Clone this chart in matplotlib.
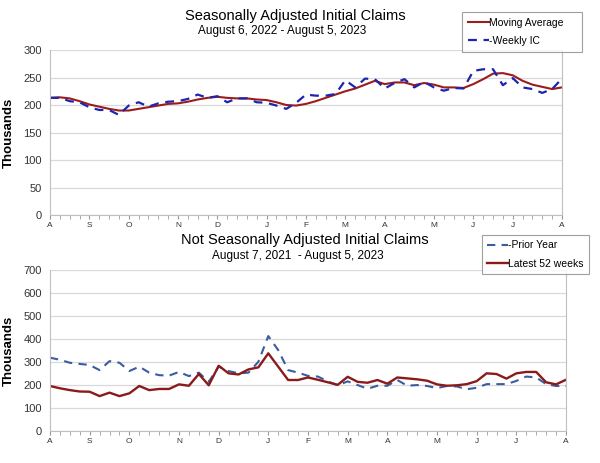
import numpy as np
import matplotlib.pyplot as plt

plt.rcParams['font.family'] = ['Liberation Sans', 'DejaVu Sans']

# Seasonally adjusted, Aug 6 2022 - Aug 5 2023 (thousands)
weekly_ic = [213, 213, 207, 205, 196, 191, 191, 182, 199, 205,
             197, 203, 206, 207, 211, 219, 213, 216, 205, 212,
             212, 205, 204, 199, 193, 204, 219, 217, 217, 220,
             245, 232, 248, 247, 230, 240, 247, 232, 242, 232,
             226, 231, 230, 262, 265, 265, 236, 249, 232, 229,
             222, 229, 248]
moving_avg = [213, 214, 212, 207, 201, 197, 193, 190, 190, 193,
              196, 199, 202, 203, 206, 210, 213, 215, 213, 212,
              212, 210, 209, 205, 200, 199, 202, 207, 213, 219,
              225, 230, 237, 244, 238, 241, 241, 236, 240, 237,
              232, 232, 231, 238, 247, 257, 258, 254, 244, 237,
              233, 229, 232]

# Not seasonally adjusted (thousands)
prior_year = [319, 310, 297, 292, 287, 265, 304, 297, 261, 280,
              254, 243, 241, 257, 239, 254, 214, 280, 261, 251,
              254, 301, 413, 352, 265, 254, 240, 237, 216, 199,
              216, 200, 184, 197, 197, 222, 197, 200, 196, 187,
              196, 194, 182, 188, 204, 204, 204, 218, 237, 233,
              204, 196, 196]
latest_52 = [196, 186, 178, 172, 171, 152, 167, 152, 164, 196,
             178, 183, 183, 203, 197, 248, 199, 284, 251, 246,
             268, 277, 338, 280, 222, 222, 233, 223, 212, 201,
             236, 214, 210, 222, 206, 233, 229, 225, 219, 203,
             197, 199, 204, 217, 251, 248, 228, 251, 257, 257,
             212, 203, 223]

month_labels = ['A', 'S', 'O', 'N', 'D', 'J', 'F', 'M', 'A', 'M', 'J', 'J', 'A']
month_weeks = [0, 4, 8, 13, 17, 22, 26, 30, 34, 39, 43, 47, 52]

weeks = np.arange(len(weekly_ic))

fig = plt.figure(figsize=(6, 4.63), dpi=100)
ax1 = fig.add_axes([0.0833, 0.5356, 0.8533, 0.3564])
ax2 = fig.add_axes([0.0833, 0.069, 0.86, 0.3477])


def style_axis(ax, ymax, ystep):
    ax.set_xlim(0, 52)
    ax.set_ylim(0, ymax)
    ax.set_yticks(np.arange(0, ymax + 1, ystep))
    ax.yaxis.grid(True, color='#d9d9d9', linewidth=0.9)
    ax.set_axisbelow(True)
    for s in ['left', 'right', 'bottom']:
        ax.spines[s].set_color('#bfbfbf')
    ax.spines['top'].set_visible(False)
    ax.set_xticks(weeks, minor=True)
    ax.set_xticks(month_weeks)
    ax.set_xticklabels(month_labels)
    ax.tick_params(axis='x', which='both', length=3, color='#999999',
                   labelsize=6, labelcolor='#333333', pad=2)
    ax.tick_params(axis='y', length=0, labelsize=8, labelcolor='#333333', pad=6)
    ax.set_ylabel('Thousands', fontsize=9.5, fontweight='bold')
    ax.yaxis.set_label_coords(-0.068, 0.5)


style_axis(ax1, 300, 50)
l1, = ax1.plot(weeks, moving_avg, color='#9b1c1c', linewidth=1.5)
l2, = ax1.plot(weeks, weekly_ic, color='#1f24b0', linewidth=1.6,
               linestyle=(0, (4, 3)))
leg1 = fig.legend([l1, l2], ['Moving Average', '-Weekly IC'], loc='upper left',
                  bbox_to_anchor=(0.77, 0.894, 0.2, 0.08), mode='expand',
                  fontsize=7.5, frameon=True, fancybox=False, edgecolor='#888888',
                  handlelength=2.0, handletextpad=0.0, borderpad=0.55,
                  labelspacing=0.8, borderaxespad=0)
leg1.get_frame().set_linewidth(0.8)
fig.text(0.492, 0.957, 'Seasonally Adjusted Initial Claims', ha='center',
         fontsize=10.5)
fig.text(0.47, 0.926, 'August 6, 2022 - August 5, 2023', ha='center', fontsize=8.5)

style_axis(ax2, 700, 100)
l3, = ax2.plot(weeks, prior_year, color='#3a5ca0', linewidth=1.5,
               linestyle=(0, (4, 3)))
l4, = ax2.plot(weeks, latest_52, color='#8b1a1a', linewidth=1.7)
leg2 = fig.legend([l3, l4], ['-Prior Year', 'Latest 52 weeks'], loc='upper left',
                  bbox_to_anchor=(0.803, 0.492), fontsize=7.5,
                  frameon=True, fancybox=False, edgecolor='#888888',
                  handlelength=2.0, handletextpad=0.0, borderpad=0.5,
                  labelspacing=0.8, borderaxespad=0)
leg2.get_frame().set_linewidth(0.8)
fig.text(0.508, 0.472, 'Not Seasonally Adjusted Initial Claims', ha='center',
         fontsize=10.5)
fig.text(0.497, 0.440, 'August 7, 2021  - August 5, 2023', ha='center', fontsize=8.5)

fig.savefig('out.png', dpi=100)
